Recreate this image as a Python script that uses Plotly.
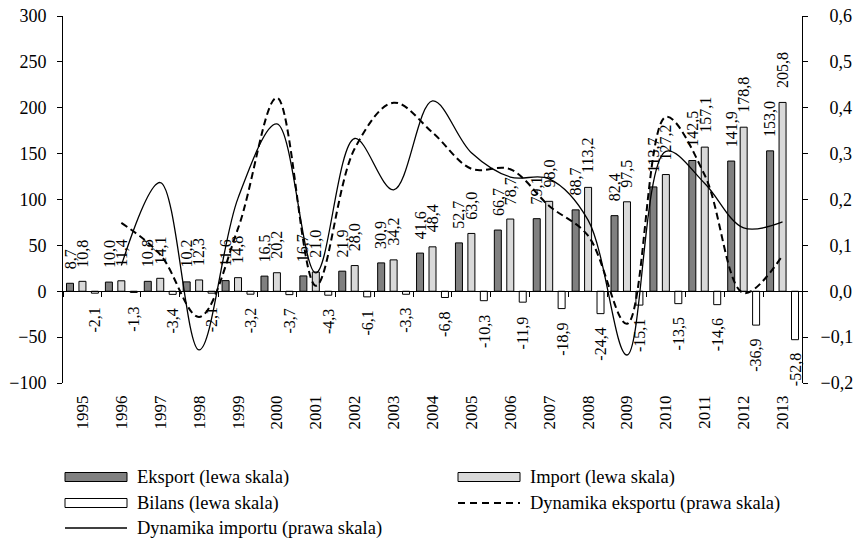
import plotly.graph_objects as go

years = [str(y) for y in range(1995, 2014)]
eksport = [8.7, 10.0, 10.8, 10.2, 11.6, 16.5, 16.7, 21.9, 30.9, 41.6, 52.7, 66.7, 79.1, 88.7, 82.4, 113.7, 142.5, 141.9, 153.0]
import_ = [10.8, 11.4, 14.1, 12.3, 14.8, 20.2, 21.0, 28.0, 34.2, 48.4, 63.0, 78.7, 98.0, 113.2, 97.5, 127.2, 157.1, 178.8, 205.8]
bilans = [-2.1, -1.3, -3.4, -2.1, -3.2, -3.7, -4.3, -6.1, -3.3, -6.8, -10.3, -11.9, -18.9, -24.4, -15.1, -13.5, -14.6, -36.9, -52.8]
dyn_years = years[1:]
dyn_eksport = [0.149, 0.080, -0.056, 0.137, 0.422, 0.012, 0.311, 0.411, 0.346, 0.267, 0.266, 0.186, 0.121, -0.071, 0.380, 0.253, -0.004, 0.078]
dyn_import = [0.056, 0.237, -0.128, 0.203, 0.365, 0.040, 0.333, 0.221, 0.415, 0.302, 0.249, 0.245, 0.155, -0.139, 0.305, 0.235, 0.138, 0.151]
right_tick_vals = [-0.2, -0.1, 0.0, 0.1, 0.2, 0.3, 0.4, 0.5, 0.6]
right_tick_text = ["\u22120,2", "\u22120,1", "\u20070,0", "\u20070,1", "\u20070,2",
                   "\u20070,3", "\u20070,4", "\u20070,5", "\u20070,6"]

FONT = "Liberation Serif"
W, H = 854, 539
L, R, T, B = 63, 52, 16, 156
BW = 0.18
SLOT = 0.32

def lab(v):
    return f"{v:.1f}".replace(".", ",")

fig = go.Figure()
series = [
    ("Eksport (lewa skala)", eksport, "#808080", -SLOT),
    ("Import (lewa skala)", import_, "#d9d9d9", 0.0),
    ("Bilans (lewa skala)", bilans, "#ffffff", SLOT),
]
for name, vals, col, off in series:
    fig.add_trace(go.Bar(
        x=years, y=vals, name=name, width=BW, offset=off - BW / 2,
        marker=dict(color=col, line=dict(color="#000000", width=1)),
        showlegend=False, hoverinfo="skip",
    ))

fig.add_trace(go.Scatter(
    x=dyn_years, y=dyn_eksport, name="Dynamika eksportu (prawa skala)",
    mode="lines", line=dict(color="black", width=2, dash="7px,4px", shape="spline", smoothing=1),
    xaxis="x2", yaxis="y2", showlegend=False,
))
fig.add_trace(go.Scatter(
    x=dyn_years, y=dyn_import, name="Dynamika importu (prawa skala)",
    mode="lines", line=dict(color="black", width=1.3, shape="spline", smoothing=1),
    xaxis="x2", yaxis="y2", showlegend=False,
))

annotations = []
for name, vals, col, off in series:
    for i, v in enumerate(vals):
        pos = v >= 0
        annotations.append(dict(
            x=i + off, y=v, xref="x", yref="y", text=lab(v), textangle=-90,
            showarrow=False, xanchor="center", yanchor="bottom" if pos else "top",
            yshift=12 if pos else -12, font=dict(family=FONT, size=16, color="black"),
        ))

# custom legend
pw, ph = W - L - R, H - T - B
def px(x):
    return (x - L) / pw
def py(y):
    return (H - B - y) / ph

shapes = []
legend_items = [
    ("Eksport (lewa skala)", "bar", "#808080", 65, 477),
    ("Import (lewa skala)", "bar", "#d9d9d9", 458, 477),
    ("Bilans (lewa skala)", "bar", "#ffffff", 65, 503),
    ("Dynamika eksportu (prawa skala)", "dash", None, 458, 503),
    ("Dynamika importu (prawa skala)", "line", None, 65, 528),
]
for text, kind, col, x0, yc in legend_items:
    if kind == "bar":
        shapes.append(dict(type="rect", xref="paper", yref="paper",
                           x0=px(x0), x1=px(x0 + 62), y0=py(yc - 4.5), y1=py(yc + 4.5),
                           fillcolor=col, line=dict(color="black", width=1)))
    else:
        shapes.append(dict(type="line", xref="paper", yref="paper",
                           x0=px(x0), x1=px(x0 + 62), y0=py(yc), y1=py(yc),
                           line=dict(color="black", width=2 if kind == "dash" else 1.3,
                                     dash="7px,5px" if kind == "dash" else "solid")))
    annotations.append(dict(x=px(x0 + 70), y=py(yc), xref="paper", yref="paper",
                            text=text, showarrow=False, xanchor="left", yanchor="middle",
                            font=dict(family=FONT, size=18.5, color="black")))

fig.update_layout(
    template="none",
    width=W, height=H, margin=dict(l=L, r=R, t=T, b=B, autoexpand=False),
    paper_bgcolor="white", plot_bgcolor="white",
    barmode="overlay", separators=", ",
    font=dict(family=FONT, size=17, color="black"),
    xaxis=dict(type="category", categoryorder="array", categoryarray=years,
               range=[-0.5, 18.5], showline=False, ticks="", tickangle=-90,
               ticklabelstandoff=8, showgrid=False, zeroline=False, automargin=False,
               tickfont=dict(family=FONT, size=17)),
    xaxis2=dict(type="category", categoryorder="array", categoryarray=years,
                range=[-0.5, 18.5], overlaying="x", anchor="free", position=0.25,
                showline=True, linecolor="black", linewidth=1, ticks="outside",
                ticklen=5, tickcolor="black", tickson="boundaries", automargin=False,
                showticklabels=False, showgrid=False, zeroline=False),
    yaxis=dict(range=[-100, 300], dtick=50, showline=True, linecolor="black",
               linewidth=1, ticks="outside", ticklen=5, tickcolor="black",
               showgrid=False, zeroline=False, ticklabelstandoff=7, automargin=False,
               tickfont=dict(family=FONT, size=18)),
    yaxis2=dict(range=[-0.2, 0.6], tickmode="array", tickvals=right_tick_vals,
                ticktext=right_tick_text, overlaying="y",
                side="right", anchor="x", showline=True, linecolor="black",
                linewidth=1, ticks="outside", ticklen=5, tickcolor="black",
                showgrid=False, zeroline=False, ticklabelstandoff=9, automargin=False,
                tickfont=dict(family=FONT, size=18)),
    annotations=annotations, shapes=shapes,
)

fig.write_html(
    "out.html",
    config={"displayModeBar": False},
    post_script="document.documentElement.style.overflow='hidden';"
                "document.body.style.overflow='hidden';"
                "document.body.style.margin='0px';",
)
